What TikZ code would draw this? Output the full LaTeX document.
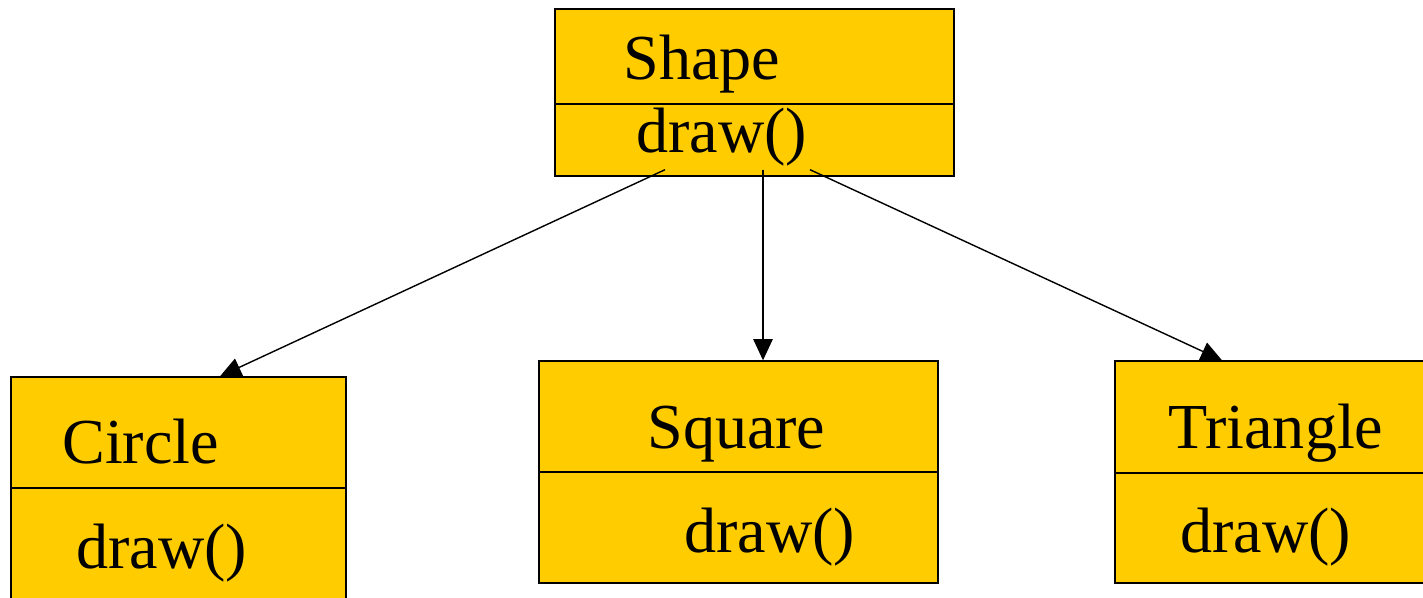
\documentclass[tikz,border=0pt]{standalone}
\usepackage{fontspec}
\setmainfont{Liberation Serif}
\usepackage{xcolor}
\usepackage{tikz}
\usetikzlibrary{arrows.meta, positioning}
\definecolor{umlgold}{RGB}{255,204,0}

\begin{document}
\begin{tikzpicture}[
x=0.02cm, y=-0.02cm,
box/.style={draw, fill=umlgold, line width=0.8pt, inner sep=0pt},
lbl/.style={anchor=base west, inner sep=0pt, font=\fontsize{36.5}{40}\selectfont},
arrow/.style={-{Triangle[length=12pt, width=11pt]}, line width=0.8pt}
]
\useasboundingbox (0,0) rectangle (1423,598);

% class boxes: name part and operation part
\node[box, minimum width=7.98cm, minimum height=1.9cm] (shape) at (754.5,56.5) {};
\node[box, minimum width=7.98cm, minimum height=1.44cm] (shapeop) at (754.5,140) {};
\node[box, minimum width=6.7cm, minimum height=2.22cm] (circle) at (178.5,432.5) {};
\node[box, minimum width=6.7cm, minimum height=2.54cm] (circleop) at (178.5,551.5) {};
\node[box, minimum width=7.98cm, minimum height=2.22cm] (square) at (738.5,416.5) {};
\node[box, minimum width=7.98cm, minimum height=2.22cm] (squareop) at (738.5,527.5) {};
\node[box, minimum width=6.4cm, minimum height=2.24cm] (triangle) at (1275,417) {};
\node[box, minimum width=6.4cm, minimum height=2.2cm] (triangleop) at (1275,528) {};

% texts
\node[lbl] (shapetxt) at (623,80) {Shape};
\node[lbl] (shapeoptxt) at (636,153) {draw()};
\node[lbl] (circletxt) at (62,463) {Circle};
\node[lbl] (circleoptxt) at (76,568) {draw()};
\node[lbl] (squaretxt) at (647,448) {Square};
\node[lbl] (squareoptxt) at (684,552) {draw()};
\node[lbl] (triangletxt) at (1168,448) {Triangle};
\node[lbl] (triangleoptxt) at (1180,552) {draw()};

% inheritance arrows
\draw[arrow] ([shift={(-89.5,-7)}]shapeop.south) -- ([shift={(41.5,0)}]circle.north);
\draw[arrow] ([shift={(8.5,-7)}]shapeop.south) -- ([shift={(24.5,0)}]square.north);
\draw[arrow] ([shift={(55.5,-7)}]shapeop.south) -- ([shift={(-53,0)}]triangle.north);

\end{tikzpicture}
\end{document}
